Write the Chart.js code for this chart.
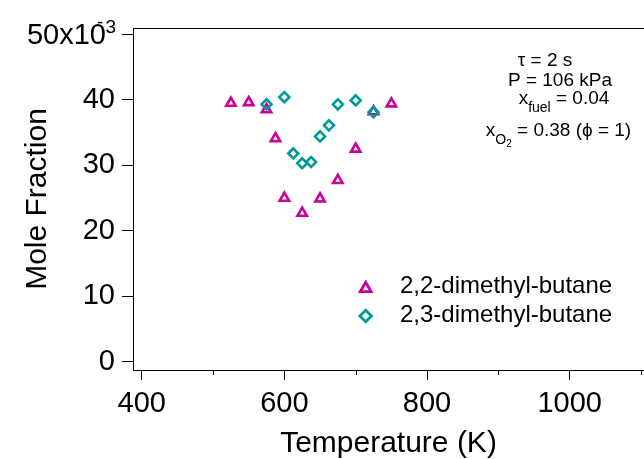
<!DOCTYPE html>
<html>
<head>
<meta charset="utf-8">
<title>Mole Fraction vs Temperature</title>
<script src="https://cdn.jsdelivr.net/npm/chart.js@4.4.1/dist/chart.umd.min.js"></script>
<style>
  html, body { margin: 0; padding: 0; background: #fff; overflow: hidden; }
  #wrap { width: 644px; height: 459px; }
</style>
</head>
<body>
<div id="wrap"><canvas id="chart" width="644" height="459"></canvas></div>
<script>
// temperatures in K, mole fractions in units of 10^-3
const seriesNames = ["2,2-dimethyl-butane", "2,3-dimethyl-butane"];
const temp22 = [525, 550, 575, 587.5, 600, 625, 650, 675, 700, 725, 750];
const mole22 = [39.5, 39.6, 38.5, 34.1, 25.0, 22.7, 24.9, 27.7, 32.5, 38.2, 39.4];
const temp23 = [575, 600, 612.5, 625, 637.5, 650, 662.5, 675, 700, 725];
const mole23 = [39.3, 40.4, 31.8, 30.3, 30.5, 34.4, 36.1, 39.3, 39.9, 38.1];

const xTicks = [400, 500, 600, 700, 800, 900, 1000, 1100];
const xLabelled = [400, 600, 800, 1000];
const yTicks = [0, 10, 20, 30, 40, 50];
const yTickLabels = ["0", "10", "20", "30", "40", "50x10"];
const yExponent = "-3";

// run conditions, each line is a list of [text, level] (0 normal, 1 subscript, 2 sub-subscript)
const conditionLines = [
  [["\u03c4 = 2 s", 0]],
  [["P = 106 kPa", 0]],
  [["x", 0], ["fuel", 1], [" = 0.04", 0]],
  [["x", 0], ["O", 1], ["2", 2], [" = 0.38 (\u03d5 = 1)", 0]],
];

const FONT = "'Liberation Sans', Arial, Helvetica, sans-serif";
Chart.defaults.font.family = FONT;
Chart.defaults.color = "#000";

const extras = {
  id: "extras",
  afterDraw(chart) {
    const { ctx, chartArea: a, scales: { x, y } } = chart;
    ctx.save();
    ctx.strokeStyle = "#000";
    ctx.lineWidth = 1;

    // top frame
    ctx.beginPath();
    ctx.moveTo(a.left, Math.round(a.top) + 0.5);
    ctx.lineTo(a.right, Math.round(a.top) + 0.5);
    ctx.stroke();

    // short minor ticks on the temperature axis
    xTicks.filter(v => !xLabelled.includes(v)).forEach(v => {
      const px = Math.round(x.getPixelForValue(v)) + 0.5;
      ctx.beginPath();
      ctx.moveTo(px, a.bottom);
      ctx.lineTo(px, a.bottom + 5);
      ctx.stroke();
    });

    // top y label with its exponent (sign sits higher, digit tucked after the label)
    const yTop = y.getPixelForValue(yTicks[yTicks.length - 1]);
    ctx.fillStyle = "#000";
    ctx.font = "29px " + FONT;
    ctx.textAlign = "right";
    ctx.textBaseline = "middle";
    ctx.fillText(yTickLabels[yTickLabels.length - 1], a.left - 27, yTop + 1.5);
    ctx.font = "19px " + FONT;
    ctx.textAlign = "left";
    ctx.textBaseline = "alphabetic";
    ctx.fillText(yExponent.charAt(0), a.left - 36, yTop - 6);
    ctx.fillText(yExponent.slice(1), a.left - 27.5, yTop - 1);

    // legend inside the plot
    chart.data.datasets.forEach((ds, i) => {
      const my = a.top + (i === 0 ? 260.5 : 288);
      ctx.strokeStyle = ds.pointBorderColor;
      ctx.fillStyle = "rgba(0,0,0,0)";
      ctx.lineWidth = ds.pointBorderWidth * 1.1;
      Chart.helpers.drawPoint(ctx, {
        pointStyle: ds.pointStyle,
        radius: ds.pointRadius * 1.15,
        borderWidth: ds.pointBorderWidth * 1.1,
        rotation: 0,
      }, a.left + 232.7, my);
      ctx.fillStyle = "#000";
      ctx.font = "24px " + FONT;
      ctx.textBaseline = "middle";
      ctx.fillText(ds.label, a.left + 267, a.top + 258.7 + i * 29);
    });

    // conditions block, each line centred
    const sizes = [19, 14, 10];
    const drops = [0, 7.5, 11];
    const centres = [412, 427, 431, 425.5];
    const baselines = [38, 58, 76, 108];
    ctx.textBaseline = "alphabetic";
    conditionLines.forEach((runs, li) => {
      let w = 0;
      runs.forEach(([t, lv]) => {
        ctx.font = sizes[lv] + "px " + FONT;
        w += ctx.measureText(t).width;
      });
      let cx = a.left + centres[li] - w / 2;
      runs.forEach(([t, lv]) => {
        ctx.font = sizes[lv] + "px " + FONT;
        ctx.fillText(t, cx, a.top + baselines[li] + drops[lv]);
        cx += ctx.measureText(t).width;
      });
    });
    ctx.restore();
  },
};

const chart = new Chart(document.getElementById("chart"), {
  type: "scatter",
  data: {
    datasets: [
      {
        label: seriesNames[0],
        data: temp22.map((t, i) => ({ x: t, y: mole22[i] })),
        pointStyle: "triangle",
        pointRadius: 5.4,
        pointBorderWidth: 2.6,
        pointBorderColor: "#cc0099",
        pointBackgroundColor: "rgba(0,0,0,0)",
        borderColor: "#cc0099",
        backgroundColor: "rgba(0,0,0,0)",
        order: 1,
      },
      {
        label: seriesNames[1],
        data: temp23.map((t, i) => ({ x: t, y: mole23[i] })),
        pointStyle: "rectRot",
        pointRadius: 5,
        pointBorderWidth: 2.6,
        pointBorderColor: "#009999",
        pointBackgroundColor: "rgba(0,0,0,0)",
        borderColor: "#009999",
        backgroundColor: "rgba(0,0,0,0)",
        order: 0,
      },
    ],
  },
  options: {
    responsive: false,
    animation: false,
    layout: {
      autoPadding: false,
      padding: { top: 28, right: 0, bottom: 0, left: 0 },
    },
    plugins: {
      legend: { display: false },
      tooltip: { enabled: false },
    },
    scales: {
      x: {
        type: "linear",
        min: 387.8,
        max: 1104.2,
        afterBuildTicks: (s) => { s.ticks = xTicks.map(v => ({ value: v })); },
        afterFit: (s) => {
          s.height = 89;
          // frame runs right to the edge, no room kept for edge labels
          s.paddingLeft = 0;
          s.paddingRight = 0;
        },
        ticks: {
          autoSkip: false,
          maxRotation: 0,
          padding: 7,
          font: { size: 29 },
          callback: (v) => (xLabelled.includes(v) ? String(v) : ""),
        },
        grid: {
          drawOnChartArea: false,
          tickLength: 10,
          color: (c) => (c.tick && xLabelled.includes(c.tick.value) ? "#000" : "rgba(0,0,0,0)"),
        },
        border: { color: "#000", width: 1 },
        title: {
          display: true,
          text: "Temperature (K)",
          font: { size: 30, lineHeight: 1 },
          padding: { top: 0, bottom: 0 },
        },
      },
      y: {
        type: "linear",
        min: -1.27,
        max: 50.96,
        afterBuildTicks: (s) => { s.ticks = yTicks.map(v => ({ value: v })); },
        afterFit: (s) => { s.width = 133; },
        ticks: {
          autoSkip: false,
          padding: 7,
          font: { size: 29 },
          // the top label carries an exponent and is drawn by the extras plugin
          callback: (v) => (v === yTicks[yTicks.length - 1] ? "" : yTickLabels[yTicks.indexOf(v)]),
        },
        grid: { drawOnChartArea: false, tickLength: 11, color: "#000" },
        border: { color: "#000", width: 1 },
        title: {
          display: true,
          text: "Mole Fraction",
          font: { size: 30, lineHeight: 1 },
          padding: { top: 23, bottom: 0 },
        },
      },
    },
  },
  plugins: [extras],
});
</script>
</body>
</html>
